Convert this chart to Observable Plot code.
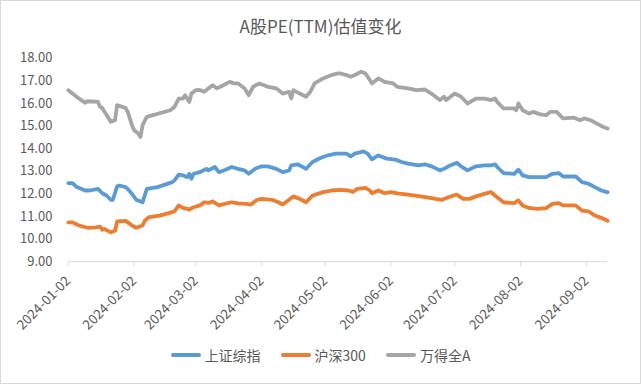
<!DOCTYPE html>
<html>
<head>
<meta charset="utf-8">
<script src="https://cdn.jsdelivr.net/npm/d3@7"></script>
<script src="https://cdn.jsdelivr.net/npm/@observablehq/plot@0.6"></script>
<style>
  html, body { margin: 0; padding: 0; background: #fff; }
  #chart { position: relative; width: 641px; height: 384px; box-sizing: border-box; border: 1px solid #d9d9d9; overflow: hidden; font-family: "Noto Sans CJK SC", "Noto Sans", sans-serif; }
  #chart svg { position: absolute; left: -1px; top: -1px; }
  #title { position: absolute; left: 0; right: 0; top: 12px; text-align: center; font-size: 17px; color: #595959; }
  #legend { position: absolute; left: 0; right: 0; top: 344px; display: flex; justify-content: center; gap: 20px; font-size: 14px; color: #595959; }
  .item { display: flex; align-items: center; }
  .sw { width: 30px; height: 4px; border-radius: 2px; margin-right: 4px; }
</style>
</head>
<body>
<div id="chart"></div>
<script>
// ---- Data ----
const seriesNames = ["上证综指", "沪深300", "万得全A"];
const seriesColors = ["#5B9BD5", "#ED7D31", "#A5A5A5"];
const titleText = "A股PE(TTM)估值变化";

const yTicks = [9, 10, 11, 12, 13, 14, 15, 16, 17, 18];
const xTickLabels = ["2024-01-02", "2024-02-02", "2024-03-02", "2024-04-02", "2024-05-02", "2024-06-02", "2024-07-02", "2024-08-02", "2024-09-02"];

// 上证综指
const shDates = ["2024-01-02","2024-01-04","2024-01-06","2024-01-10","2024-01-12","2024-01-16","2024-01-18","2024-01-20","2024-01-22","2024-01-23","2024-01-25","2024-01-26","2024-01-29","2024-01-30","2024-02-01","2024-02-03","2024-02-06","2024-02-07","2024-02-08","2024-02-13","2024-02-20","2024-02-21","2024-02-23","2024-02-25","2024-02-27","2024-02-28","2024-02-29","2024-03-01","2024-03-04","2024-03-07","2024-03-08","2024-03-11","2024-03-13","2024-03-16","2024-03-19","2024-03-22","2024-03-25","2024-03-27","2024-03-30","2024-04-02","2024-04-05","2024-04-09","2024-04-12","2024-04-15","2024-04-16","2024-04-19","2024-04-22","2024-04-23","2024-04-26","2024-04-30","2024-05-03","2024-05-07","2024-05-09","2024-05-12","2024-05-14","2024-05-16","2024-05-20","2024-05-22","2024-05-24","2024-05-27","2024-05-31","2024-06-04","2024-06-07","2024-06-10","2024-06-15","2024-06-18","2024-06-21","2024-06-25","2024-06-27","2024-06-29","2024-07-03","2024-07-05","2024-07-08","2024-07-12","2024-07-16","2024-07-19","2024-07-21","2024-07-22","2024-07-25","2024-07-30","2024-08-01","2024-08-03","2024-08-06","2024-08-10","2024-08-14","2024-08-17","2024-08-20","2024-08-22","2024-08-28","2024-08-31","2024-09-03","2024-09-06","2024-09-09","2024-09-12"];
const shValues = [12.48,12.48,12.30,12.15,12.15,12.22,12.03,11.93,11.74,11.74,12.33,12.37,12.30,12.22,12.00,11.74,11.63,11.93,12.22,12.30,12.52,12.60,12.85,12.82,12.74,12.89,12.67,12.89,12.96,13.11,13.04,13.19,12.96,13.07,13.19,13.11,13.04,12.89,13.11,13.22,13.22,13.11,12.96,13.04,13.26,13.31,13.16,13.11,13.41,13.60,13.70,13.78,13.78,13.78,13.66,13.78,13.88,13.78,13.53,13.70,13.56,13.52,13.41,13.34,13.26,13.31,13.22,13.04,13.11,13.22,13.38,13.22,13.04,13.22,13.26,13.26,13.31,13.19,12.92,12.89,13.07,12.82,12.74,12.74,12.74,12.89,12.92,12.77,12.77,12.52,12.45,12.30,12.15,12.07];

// 沪深300
const hsDates = ["2024-01-02","2024-01-04","2024-01-07","2024-01-11","2024-01-15","2024-01-17","2024-01-18","2024-01-19","2024-01-22","2024-01-24","2024-01-25","2024-01-29","2024-01-30","2024-02-01","2024-02-03","2024-02-06","2024-02-07","2024-02-09","2024-02-14","2024-02-20","2024-02-21","2024-02-23","2024-02-25","2024-02-27","2024-02-28","2024-03-01","2024-03-04","2024-03-06","2024-03-08","2024-03-10","2024-03-13","2024-03-17","2024-03-19","2024-03-22","2024-03-26","2024-03-28","2024-03-31","2024-04-02","2024-04-07","2024-04-10","2024-04-12","2024-04-15","2024-04-17","2024-04-20","2024-04-23","2024-04-26","2024-05-01","2024-05-05","2024-05-09","2024-05-13","2024-05-15","2024-05-17","2024-05-21","2024-05-23","2024-05-24","2024-05-27","2024-05-30","2024-06-02","2024-06-05","2024-06-10","2024-06-15","2024-06-19","2024-06-23","2024-06-26","2024-06-29","2024-07-03","2024-07-06","2024-07-09","2024-07-12","2024-07-16","2024-07-19","2024-07-22","2024-07-25","2024-07-30","2024-08-01","2024-08-03","2024-08-06","2024-08-10","2024-08-14","2024-08-17","2024-08-20","2024-08-22","2024-08-28","2024-08-31","2024-09-03","2024-09-06","2024-09-09","2024-09-12"];
const hsValues = [10.74,10.74,10.60,10.50,10.52,10.55,10.41,10.45,10.30,10.37,10.78,10.81,10.74,10.60,10.50,10.60,10.81,10.97,11.04,11.19,11.23,11.49,11.38,11.34,11.30,11.41,11.49,11.63,11.60,11.67,11.49,11.59,11.63,11.58,11.56,11.53,11.74,11.78,11.74,11.63,11.53,11.74,11.89,11.78,11.63,11.93,12.08,12.15,12.18,12.15,12.08,12.22,12.27,12.15,12.03,12.15,12.03,12.08,12.02,11.97,11.90,11.85,11.78,11.74,11.85,11.97,11.78,11.78,11.89,12.00,12.08,11.85,11.63,11.59,11.71,11.49,11.38,11.34,11.37,11.56,11.59,11.49,11.49,11.26,11.23,11.04,10.94,10.81];

// 万得全A
const wdDates = ["2024-01-02","2024-01-07","2024-01-10","2024-01-11","2024-01-16","2024-01-17","2024-01-18","2024-01-22","2024-01-24","2024-01-25","2024-01-29","2024-01-30","2024-02-01","2024-02-02","2024-02-04","2024-02-05","2024-02-06","2024-02-08","2024-02-19","2024-02-21","2024-02-23","2024-02-25","2024-02-26","2024-02-28","2024-02-29","2024-03-02","2024-03-04","2024-03-06","2024-03-08","2024-03-10","2024-03-12","2024-03-15","2024-03-18","2024-03-20","2024-03-22","2024-03-25","2024-03-27","2024-03-29","2024-04-01","2024-04-05","2024-04-09","2024-04-12","2024-04-15","2024-04-16","2024-04-17","2024-04-20","2024-04-23","2024-04-25","2024-04-27","2024-05-01","2024-05-05","2024-05-08","2024-05-09","2024-05-12","2024-05-14","2024-05-16","2024-05-19","2024-05-21","2024-05-23","2024-05-24","2024-05-27","2024-05-30","2024-06-03","2024-06-05","2024-06-10","2024-06-14","2024-06-18","2024-06-21","2024-06-25","2024-06-27","2024-06-28","2024-07-02","2024-07-05","2024-07-08","2024-07-12","2024-07-16","2024-07-19","2024-07-21","2024-07-22","2024-07-25","2024-07-30","2024-07-31","2024-08-01","2024-08-03","2024-08-06","2024-08-08","2024-08-11","2024-08-14","2024-08-16","2024-08-19","2024-08-22","2024-08-27","2024-08-30","2024-09-01","2024-09-04","2024-09-07","2024-09-10","2024-09-12"];
const wdValues = [16.59,16.22,16.03,16.10,16.07,15.85,15.80,15.19,15.26,15.93,15.80,15.63,15.04,14.82,14.67,14.52,15.04,15.41,15.70,15.85,16.22,16.22,16.37,16.07,16.44,16.59,16.60,16.52,16.67,16.81,16.67,16.81,16.96,16.89,16.89,16.67,16.37,16.74,16.89,16.74,16.67,16.44,16.52,16.22,16.59,16.44,16.30,16.52,16.89,17.11,17.26,17.33,17.33,17.26,17.18,17.26,17.41,17.33,17.04,16.89,17.11,16.96,16.89,16.74,16.67,16.59,16.62,16.44,16.15,16.30,16.15,16.44,16.30,16.00,16.22,16.22,16.15,16.22,16.07,15.78,15.78,15.70,16.00,15.70,15.56,15.63,15.53,15.48,15.63,15.63,15.34,15.38,15.26,15.34,15.26,15.11,14.96,14.89];

// ---- Build rows ----
const parse = d3.utcParse("%Y-%m-%d");
const allDates = [shDates, hsDates, wdDates];
const allValues = [shValues, hsValues, wdValues];
const rows = [];
seriesNames.forEach((name, i) => {
  allDates[i].forEach((d, j) => rows.push({series: name, date: parse(d), value: allValues[i][j]}));
});
const xStart = parse(shDates[0]);
const xEnd = parse(shDates[shDates.length - 1]);

const plot = Plot.plot({
  width: 641,
  height: 384,
  marginLeft: 68,
  marginRight: 32,
  marginTop: 58,
  marginBottom: 122,
  style: {fontFamily: '"Noto Sans CJK SC", "Noto Sans", sans-serif', fontSize: "13px", color: "#595959", background: "transparent"},
  x: {type: "utc", domain: [xStart, xEnd]},
  y: {domain: [9, 18]},
  color: {domain: seriesNames, range: seriesColors},
  marks: [
    Plot.ruleY([9], {stroke: "#d9d9d9", strokeWidth: 1}),
    Plot.axisY({ticks: yTicks, tickFormat: d => d.toFixed(2), tickSize: 0, tickPadding: 16, label: null, fill: "#595959", fontSize: 13}),
    Plot.axisX({ticks: xTickLabels.map(parse), tickFormat: d3.utcFormat("%Y-%m-%d"), tickRotate: -45, tickSize: 5, tickPadding: 12, stroke: "#d9d9d9", strokeOpacity: 1, label: null, fill: "#595959", fontSize: 13.5}),
    Plot.line(rows, {x: "date", y: "value", z: "series", stroke: "series", strokeWidth: 3.8, strokeLinejoin: "round", strokeLinecap: "round", curve: "linear"})
  ]
});

const chart = document.getElementById("chart");
chart.appendChild(plot);
const title = document.createElement("div");
title.id = "title";
title.textContent = titleText;
chart.appendChild(title);
const legend = document.createElement("div");
legend.id = "legend";
seriesNames.forEach((name, i) => {
  const it = document.createElement("div");
  it.className = "item";
  const sw = document.createElement("div");
  sw.className = "sw";
  sw.style.background = seriesColors[i];
  const lb = document.createElement("span");
  lb.textContent = name;
  it.appendChild(sw);
  it.appendChild(lb);
  legend.appendChild(it);
});
chart.appendChild(legend);
</script>
</body>
</html>
